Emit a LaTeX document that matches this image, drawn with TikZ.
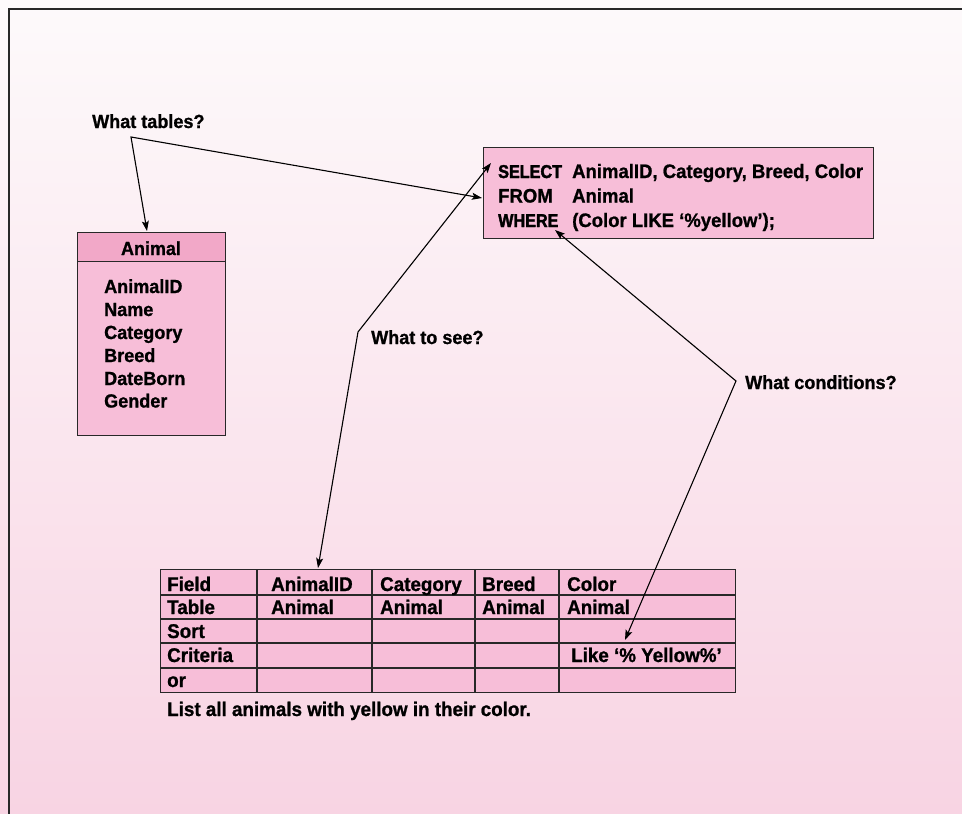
\documentclass[tikz,border=0pt]{standalone}
\usepackage{fontspec}
\setmainfont{Liberation Sans}[FakeStretch=0.95, BoldFeatures={FakeBold=1}]
\newfontfamily\kwfont{Liberation Sans Bold}[FakeStretch=0.87, FakeBold=2]
\usetikzlibrary{arrows.meta}

\definecolor{bgtop}{RGB}{253,250,251}
\definecolor{bgbot}{RGB}{248,212,227}
\definecolor{boxfill}{RGB}{247,190,216}
\definecolor{hdrfill}{RGB}{242,168,200}
\definecolor{edge}{RGB}{40,40,40}

\begin{document}
\begin{tikzpicture}[x=1pt,y=-1pt,
  lbl/.style={anchor=base west, inner sep=0, font=\fontsize{19}{19}\selectfont\bfseries},
  sqltxt/.style={lbl, font=\fontsize{19.5}{19.5}\selectfont\bfseries},
  sqlkw/.style={lbl, font=\fontsize{18.6}{18.6}\kwfont},
  fld/.style={lbl, font=\fontsize{19}{19}\selectfont\bfseries},
  cell/.style={lbl, font=\fontsize{19.8}{19.8}\selectfont\bfseries},
  panel/.style={draw=edge, line width=1.3pt, fill=boxfill, inner sep=0, anchor=north west},
  conn/.style={draw=black, line width=1.1pt, line join=miter},
  tips/.style={{Stealth[length=10pt,width=7pt,inset=2pt]}-{Stealth[length=10pt,width=7pt,inset=2pt]}}
]
\useasboundingbox (0,0) rectangle (962,814);

% page background and frame
\shade[top color=bgtop, bottom color=bgbot] (0,0) rectangle (962,814);
\draw[edge, line width=2pt] (8.5,814) -- (8.5,9) -- (962,9);

% table box: Animal
\node[panel, fill=hdrfill, minimum width=148, minimum height=29] (ahdr) at (77,232) {};
\node[panel, minimum width=148, minimum height=174] (abody) at (77,261) {};
\node[anchor=base, inner sep=0, font=\fontsize{18.9}{18.9}\selectfont\bfseries] (ahdrtxt) at (151,255) {Animal};
\foreach \f/\y [count=\i] in {AnimalID/293, Name/316, Category/339, Breed/362, DateBorn/385, Gender/407.5}
  \node[fld] (fld\i) at (104,\y) {\f};

% SQL statement
\node[panel, minimum width=390, minimum height=91] (sql) at (483,147) {};
\node[sqlkw]  (kwselect) at (498,178) {SELECT};
\node[sqltxt] (kwfrom)   at (498,202.5) {FROM};
\node[sqlkw]  (kwwhere)  at (498,227) {WHERE};
\node[sqltxt] (colsel)   at (572,178) {AnimalID, Category, Breed, Color};
\node[sqltxt] (colfrom)  at (572,202.5) {Animal};
\node[sqltxt] (colwhere) at (572,227) {(Color LIKE ‘\%yellow’);};

% query-by-example grid
\node[panel, minimum width=575, minimum height=123] (qbe) at (160,569) {};
\foreach \y in {595,619,643,668}
  \draw[edge, line width=1.3pt] (160,\y) -- (735,\y);
\foreach \x in {257,372,475,559}
  \draw[edge, line width=1.3pt] (\x,569) -- (\x,692);
\foreach \t/\y [count=\i] in {Field/591, Table/614, Sort/638, Criteria/662, or/687}
  \node[cell] (rowhead\i) at (167,\y) {\t};
\node[cell] (fieldA) at (271,591) {AnimalID};
\node[cell] (fieldB) at (380,591) {Category};
\node[cell] (fieldC) at (482,591) {Breed};
\node[cell] (fieldD) at (567,591) {Color};
\node[cell] (tableA) at (271,614) {Animal};
\node[cell] (tableB) at (380,614) {Animal};
\node[cell] (tableC) at (482,614) {Animal};
\node[cell] (tableD) at (567,614) {Animal};
\node[cell] (critD)  at (571,662) {Like ‘\% Yellow\%’};
\node[cell] (caption) at (167,716) {List all animals with yellow in their color.};

% callouts
\node[lbl] (qtables) at (92,128) {What tables?};
\node[lbl] (qsee)    at (371,344) {What to see?};
\node[lbl] (qcond)   at (745,389) {What conditions?};

\coordinate (tablesbend) at (131,137);
\coordinate (tablesA)    at (147,231);
\coordinate (tablesS)    at (482,198);
\coordinate (seebend)    at (358,332);
\coordinate (seeS)       at (491,163);
\coordinate (seeG)       at (318,568);
\coordinate (condbend)   at (736,381);
\coordinate (condS)      at (555,230);
\coordinate (condG)      at (625,640);

\draw[conn, tips] (tablesA) -- (tablesbend) -- (tablesS);
\draw[conn, tips] (seeS) -- (seebend) -- (seeG);
\draw[conn, tips] (condS) -- (condbend) -- (condG);
\end{tikzpicture}
\end{document}
